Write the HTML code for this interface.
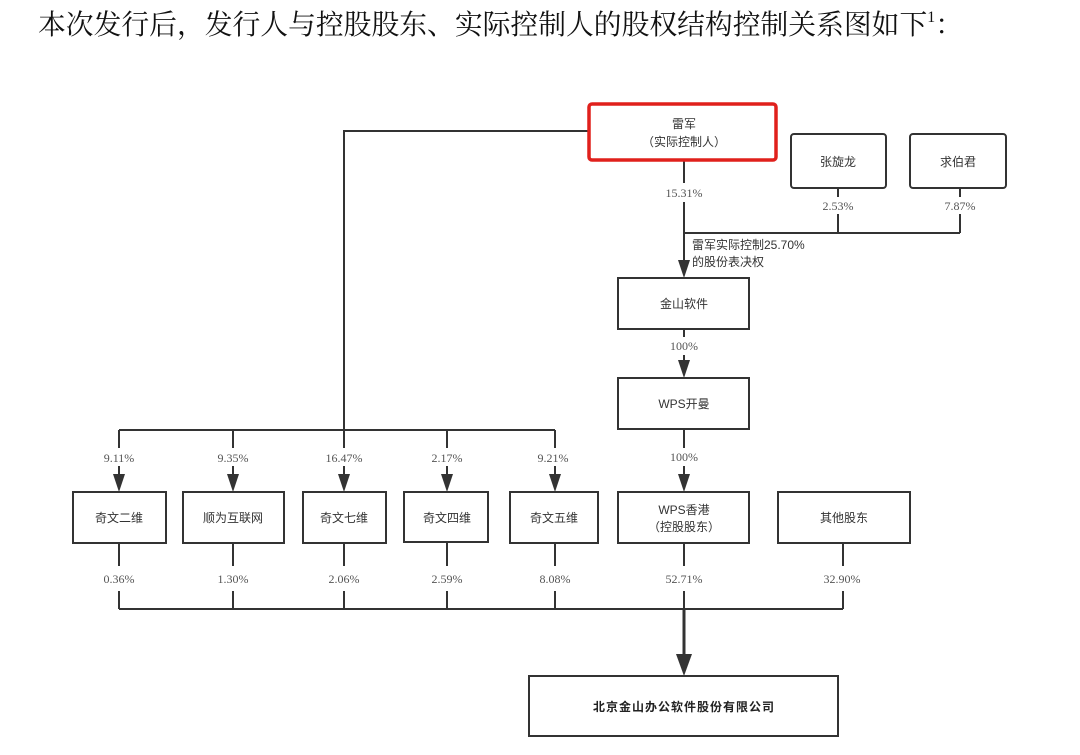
<!DOCTYPE html>
<html><head><meta charset="utf-8"><style>
html,body{margin:0;padding:0;background:#fff;}
svg{display:block;}
text{font-family:"Liberation Serif","Noto Sans CJK SC",serif;fill:#333;}
.c{font-family:"Liberation Sans","Noto Sans CJK SC",sans-serif;font-size:12px;fill:#333;}
.p{font-family:"Liberation Serif","Noto Serif CJK SC",serif;font-size:12px;fill:#555;}
</style></head><body>
<svg width="1080" height="755" viewBox="0 0 1080 755" xmlns="http://www.w3.org/2000/svg">
<text x="38" y="34" font-size="28" textLength="925" lengthAdjust="spacingAndGlyphs" style="fill:#111;font-family:'Liberation Serif','Noto Serif CJK SC',serif">本次发行后，发行人与控股股东、实际控制人的股权结构控制关系图如下<tspan font-size="16" dy="-12">1</tspan><tspan dy="12">：</tspan></text>

<g stroke="#333" stroke-width="2" fill="none">
<polyline points="588,131 344,131 344,430"/>
<line x1="119" y1="430" x2="555" y2="430"/>
<line x1="684" y1="160" x2="684" y2="183"/>
<line x1="684" y1="202" x2="684" y2="262"/>
<line x1="684" y1="233" x2="960" y2="233"/>
<line x1="838" y1="188" x2="838" y2="197"/>
<line x1="838" y1="214" x2="838" y2="233"/>
<line x1="960" y1="188" x2="960" y2="197"/>
<line x1="960" y1="214" x2="960" y2="233"/>
<line x1="684" y1="329" x2="684" y2="337"/>
<line x1="684" y1="355" x2="684" y2="362"/>
<line x1="684" y1="429" x2="684" y2="448"/>
<line x1="684" y1="466" x2="684" y2="476"/>
<line x1="119" y1="430" x2="119" y2="448"/><line x1="119" y1="466" x2="119" y2="476"/>
<line x1="233" y1="430" x2="233" y2="448"/><line x1="233" y1="466" x2="233" y2="476"/>
<line x1="344" y1="430" x2="344" y2="448"/><line x1="344" y1="466" x2="344" y2="476"/>
<line x1="447" y1="430" x2="447" y2="448"/><line x1="447" y1="466" x2="447" y2="476"/>
<line x1="555" y1="430" x2="555" y2="448"/><line x1="555" y1="466" x2="555" y2="476"/>
<line x1="119" y1="543" x2="119" y2="566"/><line x1="119" y1="591" x2="119" y2="609"/>
<line x1="233" y1="543" x2="233" y2="566"/><line x1="233" y1="591" x2="233" y2="609"/>
<line x1="344" y1="543" x2="344" y2="566"/><line x1="344" y1="591" x2="344" y2="609"/>
<line x1="447" y1="543" x2="447" y2="566"/><line x1="447" y1="591" x2="447" y2="609"/>
<line x1="555" y1="543" x2="555" y2="566"/><line x1="555" y1="591" x2="555" y2="609"/>
<line x1="684" y1="543" x2="684" y2="566"/><line x1="684" y1="591" x2="684" y2="609"/>
<line x1="843" y1="543" x2="843" y2="566"/><line x1="843" y1="591" x2="843" y2="609"/>
<line x1="119" y1="609" x2="843" y2="609"/>
<line x1="684" y1="609" x2="684" y2="656" stroke-width="3"/>
</g>
<g fill="#333">
<polygon points="678,260 690,260 684,278"/>
<polygon points="678,360 690,360 684,378"/>
<polygon points="678,474 690,474 684,492"/>
<polygon points="113,474 125,474 119,492"/>
<polygon points="227,474 239,474 233,492"/>
<polygon points="338,474 350,474 344,492"/>
<polygon points="441,474 453,474 447,492"/>
<polygon points="549,474 561,474 555,492"/>
<polygon points="676,654 692,654 684,676"/>
</g>

<g fill="#fff" stroke="#333" stroke-width="2">
<rect x="589" y="104" width="187" height="56" rx="3" stroke="#e0201c" stroke-width="3.5"/>
<rect x="791" y="134" width="95" height="54" rx="3"/>
<rect x="910" y="134" width="96" height="54" rx="3"/>
<rect x="618" y="278" width="131" height="51"/>
<rect x="618" y="378" width="131" height="51"/>
<rect x="73" y="492" width="93" height="51"/>
<rect x="183" y="492" width="101" height="51"/>
<rect x="303" y="492" width="83" height="51"/>
<rect x="404" y="492" width="84" height="50"/>
<rect x="510" y="492" width="88" height="51"/>
<rect x="618" y="492" width="131" height="51"/>
<rect x="778" y="492" width="132" height="51"/>
<rect x="529" y="676" width="309" height="60"/>
</g>

<g text-anchor="middle">
<text class="c" x="684" y="128">雷军</text>
<text class="c" x="684" y="146">（实际控制人）</text>
<text class="c" x="838" y="166">张旋龙</text>
<text class="c" x="958" y="166">求伯君</text>
<text class="p" x="684" y="197">15.31%</text>
<text class="p" x="838" y="210">2.53%</text>
<text class="p" x="960" y="210">7.87%</text>
<text class="c" x="684" y="308">金山软件</text>
<text class="p" x="684" y="350">100%</text>
<text class="c" x="684" y="408">WPS开曼</text>
<text class="p" x="684" y="461">100%</text>
<text class="c" x="684" y="514">WPS香港</text>
<text class="c" x="684" y="531">（控股股东）</text>
<text class="c" x="844" y="522">其他股东</text>
<text class="c" x="119" y="522">奇文二维</text>
<text class="c" x="233" y="522">顺为互联网</text>
<text class="c" x="344" y="522">奇文七维</text>
<text class="c" x="447" y="522">奇文四维</text>
<text class="c" x="554" y="522">奇文五维</text>
<text class="p" x="119" y="462">9.11%</text>
<text class="p" x="233" y="462">9.35%</text>
<text class="p" x="344" y="462">16.47%</text>
<text class="p" x="447" y="462">2.17%</text>
<text class="p" x="553" y="462">9.21%</text>
<text class="p" x="119" y="583">0.36%</text>
<text class="p" x="233" y="583">1.30%</text>
<text class="p" x="344" y="583">2.06%</text>
<text class="p" x="447" y="583">2.59%</text>
<text class="p" x="555" y="583">8.08%</text>
<text class="p" x="684" y="583">52.71%</text>
<text class="p" x="842" y="583">32.90%</text>
<text class="c" x="684" y="711" style="font-weight:bold;letter-spacing:1px;fill:#222">北京金山办公软件股份有限公司</text>
</g>
<text class="c" x="692" y="249">雷军实际控制25.70%</text>
<text class="c" x="692" y="266">的股份表决权</text>
</svg>
</body></html>
